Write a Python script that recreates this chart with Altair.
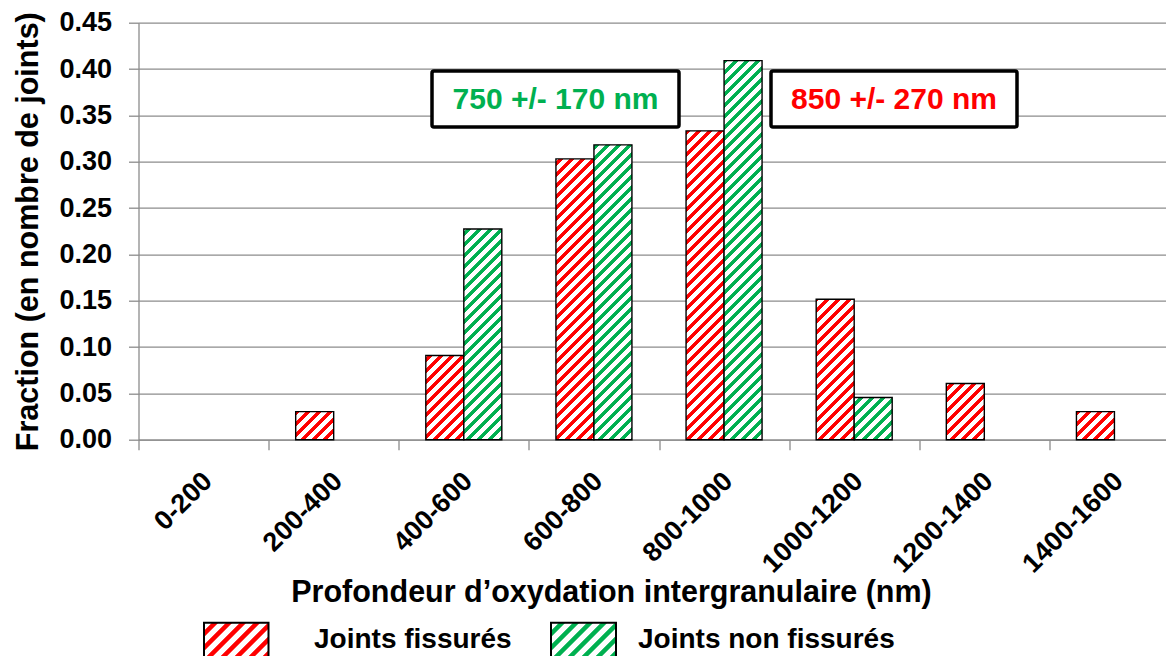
import math
import altair as alt
import pandas as pd

# ---------------- data ----------------
categories = ["0-200", "200-400", "400-600", "600-800", "800-1000",
              "1000-1200", "1200-1400", "1400-1600"]
fissures = [0.0, 0.0303, 0.0909, 0.3030, 0.3333, 0.1515, 0.0606, 0.0303]
non_fissures = [0.0, 0.0, 0.2273, 0.3182, 0.4091, 0.0455, 0.0, 0.0]
series = ["Joints fissurés", "Joints non fissurés"]
series_colors = ["#FF0000", "#00B050"]
annotation_texts = ["750 +/- 170 nm", "850 +/- 270 nm"]
annotation_colors = ["#00B050", "#FF0000"]
y_ticks = [0.0, 0.05, 0.10, 0.15, 0.20, 0.25, 0.30, 0.35, 0.40, 0.45]

# ---------------- layout / style ----------------
FONT = "Liberation Sans"
PAD_L, PAD_T = 130.5, 14.7
W, H = 1027.5, 417          # visible plot area (page is cropped at the right)
X_RANGE = 1041.0            # full category range (extends past the right edge)
YMAX = 0.45
STEP = X_RANGE / len(categories)
BAR_W = 38.0
PAD_OUT = (STEP / BAR_W - 2) / 2
PERIOD = 11.0
DUTY = 0.45
GREY = "#8c8c8c"

rows = []
for c, v in zip(categories, fissures):
    rows.append({"cat": c, "series": series[0], "value": v})
for c, v in zip(categories, non_fissures):
    rows.append({"cat": c, "series": series[1], "value": v})
df = pd.DataFrame(rows)


def stripe_fill(color, w, h, offset=0.0, period=PERIOD, duty=DUTY, soft=0.8):
    """Diagonal (///) hatch as a linear gradient in bounding-box units."""
    L = w + h
    k = L / (w * w + h * h)
    stops = [{"offset": 0.0, "color": "white"}]
    first = math.floor(offset / period) - 1
    last = math.ceil((offset + L) / period) + 1
    pts = []
    for i in range(first, last + 1):
        a = i * period + period * (1 - duty) - offset
        b = i * period + period - offset
        pts += [(a, "white"), (a + soft, color), (b, color), (b + soft, "white")]
    for s, col in pts:
        s = min(max(s, 0.0), L)
        stops.append({"offset": s / L, "color": col})
    stops.append({"offset": 1.0, "color": stops[-1]["color"]})
    return {"gradient": "linear", "x1": 0, "y1": 0,
            "x2": k * w, "y2": k * h, "stops": stops}


x_axis = alt.Axis(
    title="Profondeur d\u2019oxydation intergranulaire (nm)",
    titleFont=FONT, titleFontSize=30.5, titleFontWeight="bold", titleColor="black",
    titleX=472.5, titleY=162, titleAlign="center", titleBaseline="alphabetic",
    labelFont=FONT, labelFontSize=27, labelFontWeight="bold", labelColor="black",
    labelAngle=315, labelAlign="right", labelBaseline="middle", labelPadding=27,
    labelLimit=400, labelOverlap=False, labelBound=False, labelFlush=False,
    labelOffset=4,
    tickBand="extent", tickSize=10, tickColor=GREY, tickWidth=1.3,
    domainColor=GREY, domainWidth=1.3, grid=False,
)
y_axis = alt.Axis(
    title="Fraction (en nombre de joints)",
    titleFont=FONT, titleFontSize=30.5, titleFontWeight="bold", titleColor="black",
    titleX=-101, titleY=H / 2, titleAngle=270, titleAlign="center",
    titleBaseline="alphabetic",
    values=y_ticks, format=".2f",
    labelFont=FONT, labelFontSize=27, labelFontWeight="bold", labelColor="black",
    labelPadding=17,
    tickSize=10, tickColor=GREY, tickWidth=1.3,
    domainColor=GREY, domainWidth=1.3,
    grid=True, gridColor=GREY, gridWidth=1.3,
)

x_scale = alt.Scale(domain=categories, paddingInner=0, paddingOuter=0,
                    range=[0, X_RANGE])
xo_scale = alt.Scale(domain=series, paddingInner=0, paddingOuter=PAD_OUT)
y_scale = alt.Scale(domain=[0, YMAX], nice=False, zero=True)


def enc(chart):
    return chart.encode(
        x=alt.X("cat:N", scale=x_scale, sort=categories, axis=x_axis),
        xOffset=alt.XOffset("series:N", scale=xo_scale, sort=series),
        y=alt.Y("value:Q", scale=y_scale, axis=y_axis),
    )


layers = [enc(alt.Chart(df).mark_bar(opacity=0))]

for si, (sname, vals) in enumerate(zip(series, [fissures, non_fissures])):
    for ci, (cat, v) in enumerate(zip(categories, vals)):
        if v <= 0:
            continue
        h = v / YMAX * H
        x_left = ci * STEP + PAD_OUT * BAR_W + si * BAR_W
        y_top = H - h
        grad = stripe_fill(series_colors[si], BAR_W, h,
                           offset=(x_left + y_top) % PERIOD)
        bar = alt.Chart(df).transform_filter(
            (alt.datum.cat == cat) & (alt.datum.series == sname)
        ).mark_bar(fill=grad, stroke="black", strokeWidth=1.4)
        layers.append(enc(bar))

# annotation boxes
one = pd.DataFrame({"k": [0]})
ann_boxes = [(293.5, 540.5, 48.3, 104.3), (632.5, 878.5, 48.3, 104.3)]
for (x0, x1, y0, y1), txt, col in zip(ann_boxes, annotation_texts, annotation_colors):
    layers.append(alt.Chart(one).mark_rect(
        fill="white", stroke="black", strokeWidth=3.5, cornerRadius=2
    ).encode(x=alt.value(x0), x2=alt.value(x1), y=alt.value(y0), y2=alt.value(y1)))
    layers.append(alt.Chart(one).mark_text(
        font=FONT, fontSize=30, fontWeight="bold", color=col,
        align="center", baseline="middle"
    ).encode(x=alt.value((x0 + x1) / 2), y=alt.value((y0 + y1) / 2 + 1),
             text=alt.value(txt)))

# legend
leg_swatches = [(65.5, 130.0), (412.5, 477.5)]
leg_text_x = [175.5, 499.5]
for (x0, x1), tx, sname, col in zip(leg_swatches, leg_text_x, series, series_colors):
    sw_h = 50
    layers.append(alt.Chart(one).mark_rect(
        fill=stripe_fill(col, x1 - x0, sw_h, period=14.0), stroke="black",
        strokeWidth=2
    ).encode(x=alt.value(x0), x2=alt.value(x1), y=alt.value(600),
             y2=alt.value(600 + sw_h)))
    layers.append(alt.Chart(pd.DataFrame({"s": [sname]})).mark_text(
        font=FONT, fontSize=28, fontWeight="bold", color="black",
        align="left", baseline="alphabetic"
    ).encode(x=alt.value(tx), y=alt.value(625), text="s:N"))

TOTAL_H = 648
chart = alt.layer(*layers).properties(
    width=W, height=H,
    autosize=alt.AutoSizeParams(type="none"),
    padding={"left": PAD_L, "top": PAD_T, "right": 0,
             "bottom": TOTAL_H - PAD_T - H},
    background="white",
).configure_view(stroke=None)

chart.save("out.html", embed_options={"renderer": "svg", "actions": False})
